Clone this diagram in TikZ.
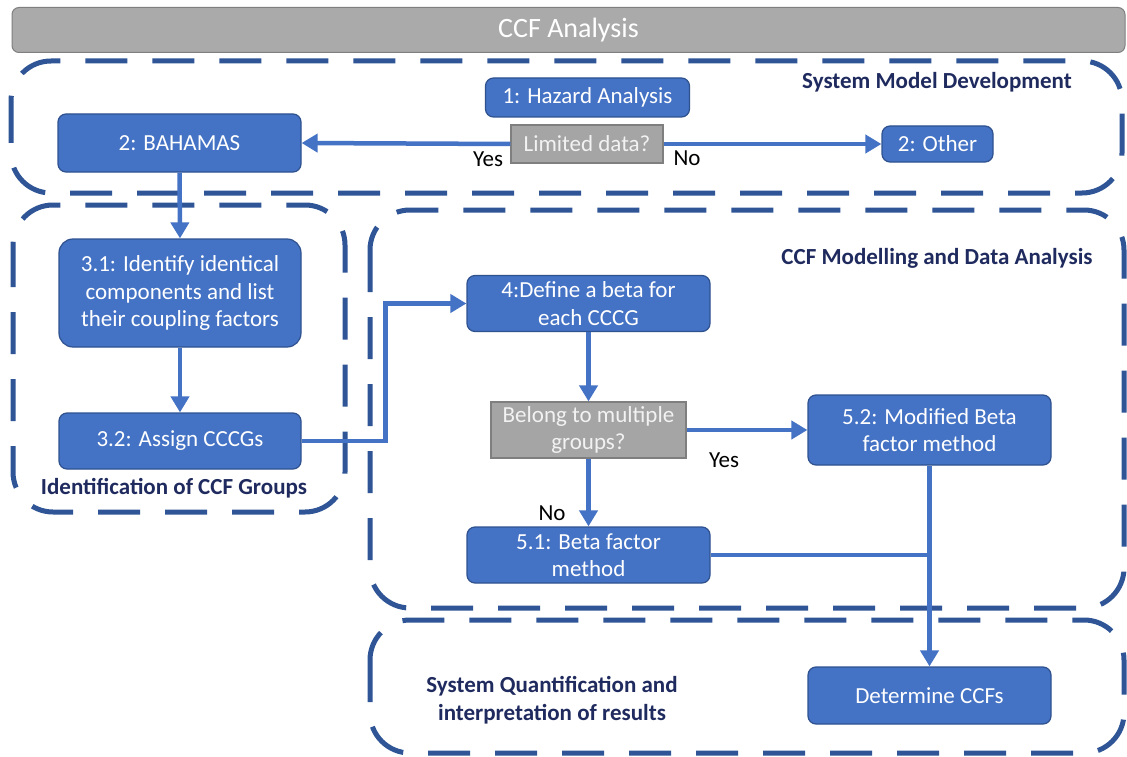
\documentclass[tikz,border=0pt]{standalone}
\usepackage{fontspec}
\setmainfont{Carlito}
\usetikzlibrary{arrows.meta}
\definecolor{boxfill}{HTML}{4472C4}
\definecolor{boxline}{HTML}{2F528F}
\definecolor{regionline}{HTML}{2F5597}
\definecolor{navy}{HTML}{1F2A5E}
\definecolor{qfill}{HTML}{A5A5A5}
\definecolor{qline}{HTML}{7F7F7F}
\tikzset{
  stepbox/.style={draw=boxline, fill=boxfill, line width=1.2pt, rounded corners=8pt,
    text=white, align=center, inner sep=0pt, font=\fontsize{23}{27.5}\selectfont},
  querybox/.style={draw=qline, fill=qfill, line width=1.2pt,
    text=white!95!black, align=center, inner sep=0pt, font=\fontsize{23}{27.5}\selectfont},
  region/.style={draw=regionline, line width=5pt, dash pattern=on 42pt off 25pt, rounded corners=40pt},
  flow/.style={draw=boxfill, line width=4.5pt, -{Triangle[length=16pt,width=18pt]}},
  flowplain/.style={draw=boxfill, line width=4.5pt},
  grouplabel/.style={text=navy, align=center, font=\bfseries\fontsize{23}{27.5}\selectfont},
  answer/.style={text=black, font=\fontsize{23}{27}\selectfont}
}
\begin{document}
\begin{tikzpicture}[x=1pt,y=-1pt]
\useasboundingbox (0,0) rectangle (1127,757);
\fill[white] (0,0) rectangle (1127,757);

% title bar
\node[draw=qline, fill=qfill!95!white, line width=1pt, rounded corners=7pt,
      minimum width=1113pt, minimum height=45pt, inner sep=0pt,
      text=white, font=\fontsize{28}{32}\selectfont] (title) at (568.5,30) {CCF Analysis};

% dashed phase regions
\draw[region] (11,61) rectangle (1122,193);
\draw[region] (13,205) rectangle (345,512);
\draw[region] (370,210) rectangle (1124,608);
\draw[region] (370,620) rectangle (1124,753);

% phase labels
\node[grouplabel] (lsys) at (937,82) {System Model Development};
\node[grouplabel] (lccf) at (937,258) {CCF Modelling and Data Analysis};
\node[grouplabel] (lid) at (174,488) {Identification of CCF Groups};
\node[grouplabel] (lquant) at (552,700) {System Quantification and\\interpretation of results};

% steps
\node[stepbox, minimum width=204pt, minimum height=39pt] (haz) at (587.5,97.5) {1: Hazard Analysis};
\node[stepbox, minimum width=243pt, minimum height=58pt] (bah) at (179.5,143) {2: BAHAMAS};
\node[querybox, minimum width=152pt, minimum height=38pt] (lim) at (587,144) {Limited data?};
\node[stepbox, minimum width=111pt, minimum height=36pt] (oth) at (937.5,144) {2: Other};
\node[stepbox, rounded corners=14pt, minimum width=242pt, minimum height=108pt] (b31) at (180,293)
  {3.1: Identify identical\\components and list\\their coupling factors};
\node[stepbox, minimum width=242pt, minimum height=56pt] (b32) at (180,441) {3.2: Assign CCCGs};
\node[stepbox, minimum width=243pt, minimum height=56pt] (b4) at (588.5,303.5) {4:Define a beta for\\each CCCG};
\node[querybox, minimum width=195pt, minimum height=56pt] (bel) at (588.5,430) {Belong to multiple\\groups?};
\node[stepbox, minimum width=243pt, minimum height=70pt] (b52) at (929.5,430) {5.2: Modified Beta\\factor method};
\node[stepbox, minimum width=243pt, minimum height=56pt] (b51) at (588.5,555) {5.1: Beta factor\\method};
\node[stepbox, minimum width=243pt, minimum height=57pt] (det) at (929.5,695.5) {Determine CCFs};

% connectors
\draw[flow] (lim.west) -- (bah.east);
\draw[flow] (lim.east) -- (oth.west);
\draw[flow] (bah.south) -- (b31.north);
\draw[flow] (b31.south) -- (b32.north);
\draw[flow] (b32.east) -- ++(84,0) |- (b4.west);
\draw[flow] (b4.south) -- (bel.north);
\draw[flow] (bel.east) -- (b52.west);
\draw[flow] (bel.south) -- (b51.north);
\draw[flowplain] (b51.east) -- (b52.south |- b51.east);
\draw[flow] (b52.south) -- (det.north);

% branch answers
\node[answer] (yes1) at (488,159) {Yes};
\node[answer] (no1) at (687,158) {No};
\node[answer] (yes2) at (724,460) {Yes};
\node[answer] (no2) at (552,513) {No};
\end{tikzpicture}
\end{document}
